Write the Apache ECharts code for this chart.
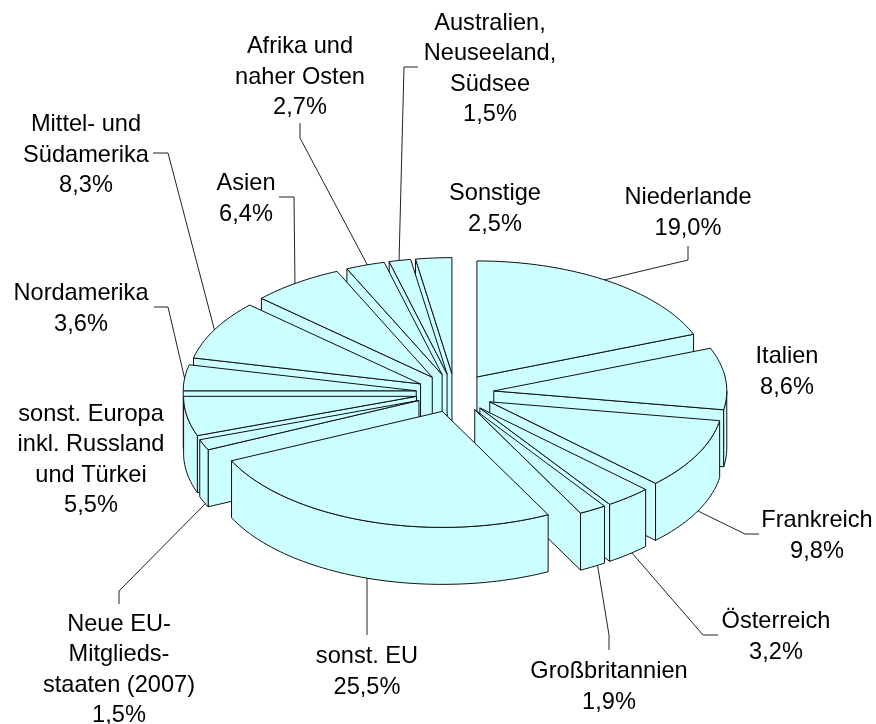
<!DOCTYPE html>
<html><head><meta charset="utf-8">
<style>html,body{margin:0;padding:0;background:#fff}#c{width:876px;height:724px}</style>
<script src="https://cdn.jsdelivr.net/npm/echarts@6/dist/echarts.min.js"></script>
</head><body><div id="c"></div>
<script>
const categories = ['Niederlande','Italien','Frankreich','Österreich','Großbritannien','sonst. EU','Neue EU-\nMitglieds-\nstaaten (2007)','sonst. Europa\ninkl. Russland\nund Türkei','Nordamerika','Mittel- und\nSüdamerika','Asien','Afrika und\nnaher Osten','Australien,\nNeuseeland,\nSüdsee','Sonstige'];
const shares = [19.0,8.6,9.8,3.2,1.9,25.5,1.5,5.5,3.6,8.3,6.4,2.7,1.5,2.5];

// Layout, kept apart from the data
const CX=455, CY=393, RX=233, RY=116, DEPTH=57, EXPLODE=39;
const FILL='#CCFFFF', STROKE='#111', FONT_SIZE=23.6, LINE_H=30.2;
const labelCenters = [[688,213],[787,372],[817,536],[776,637],[609,687],[367,672],[119,670],[91,460],[81,309],[86,155],[246,199],[300,77],[490,69],[495,209]];
const leaders = [
 [[604,280],[688,260],[688,246]], null,
 [[698,511],[745,534],[759,534]],
 [[632,553],[703,635],[718,635]],
 [[597,562],[609,635],[609,650]],
 [[367,575],[367,635]],
 [[208,501],[119,591],[119,604]], null,
 [[185,380],[168,307],[154,307]],
 [[215,332],[168,153],[153,153]],
 [[295,287],[294,197],[279,197]],
 [[369,268],[300,138],[300,123]],
 [[399,262],[404,67],[418,67]], null];

const total = shares.reduce((a,b)=>a+b,0);
const rad = d=>d*Math.PI/180;
let acc=0;
const spans = shares.map(v=>{const a=acc/total*360; acc+=v; return [a,acc/total*360];});
const drawOrder = shares.map((_,i)=>i).sort((p,q)=>
  Math.cos(rad((spans[q][0]+spans[q][1])/2))-Math.cos(rad((spans[p][0]+spans[p][1])/2)));
const pieData = drawOrder.map(i=>({name:categories[i].replace(/\n/g,' '),value:[shares[i],spans[i][0],spans[i][1]]}));

function renderSlice(params,api){
  const a=api.value(1), b=api.value(2), m=(a+b)/2;
  const tx=CX+EXPLODE*Math.sin(rad(m)), ty=CY-EXPLODE*RY/RX*Math.cos(rad(m));
  const pt=t=>[tx+RX*Math.sin(rad(t)), ty-RY*Math.cos(rad(t))];
  const arc=(s,e)=>{const n=Math.max(2,Math.ceil((e-s)/1.5));const o=[];for(let k=0;k<=n;k++)o.push(pt(s+(e-s)*k/n));return o;};
  const down=p=>[p[0],p[1]+DEPTH];
  const style={fill:FILL,stroke:STROKE,lineWidth:1};
  const kids=[];
  const poly=pts=>kids.push({type:'polygon',shape:{points:pts},style});
  const sa=Math.sin(rad(a)), sb=Math.sin(rad(b));
  if(sa<-1e-6){const P=pt(a);poly([[tx,ty],P,down(P),[tx,ty+DEPTH]]);}
  if(sb>1e-6){const P=pt(b);poly([[tx,ty],P,down(P),[tx,ty+DEPTH]]);}
  const s=Math.max(a,90), e=Math.min(b,270);
  if(e>s){const top=arc(s,e);poly(top.concat(top.map(down).reverse()));}
  poly([[tx,ty]].concat(arc(a,b)));
  return {type:'group',children:kids};
}
function renderLabel(params,api){
  const i=params.dataIndex, kids=[], c=labelCenters[i];
  if(leaders[i]) kids.push({type:'polyline',shape:{points:leaders[i]},style:{fill:null,stroke:'#222',lineWidth:1}});
  kids.push({type:'text',style:{x:c[0],y:c[1],text:categories[i]+'\n'+api.value(0).toFixed(1).replace('.',',')+'%',
    align:'center',verticalAlign:'middle',fontFamily:'Liberation Sans',fontSize:FONT_SIZE,lineHeight:LINE_H,fill:'#000'}});
  return {type:'group',children:kids};
}
const chart=echarts.init(document.getElementById('c'),null,{renderer:'canvas'});
chart.setOption({
  animation:false,backgroundColor:'#fff',
  series:[
    {type:'custom',coordinateSystem:'none',renderItem:renderLabel,data:shares.map((v,i)=>({name:categories[i].replace(/\n/g,' '),value:[v]})),silent:true,z:1},
    {type:'custom',coordinateSystem:'none',renderItem:renderSlice,data:pieData,silent:true,z:2}
  ]
});
</script></body></html>
